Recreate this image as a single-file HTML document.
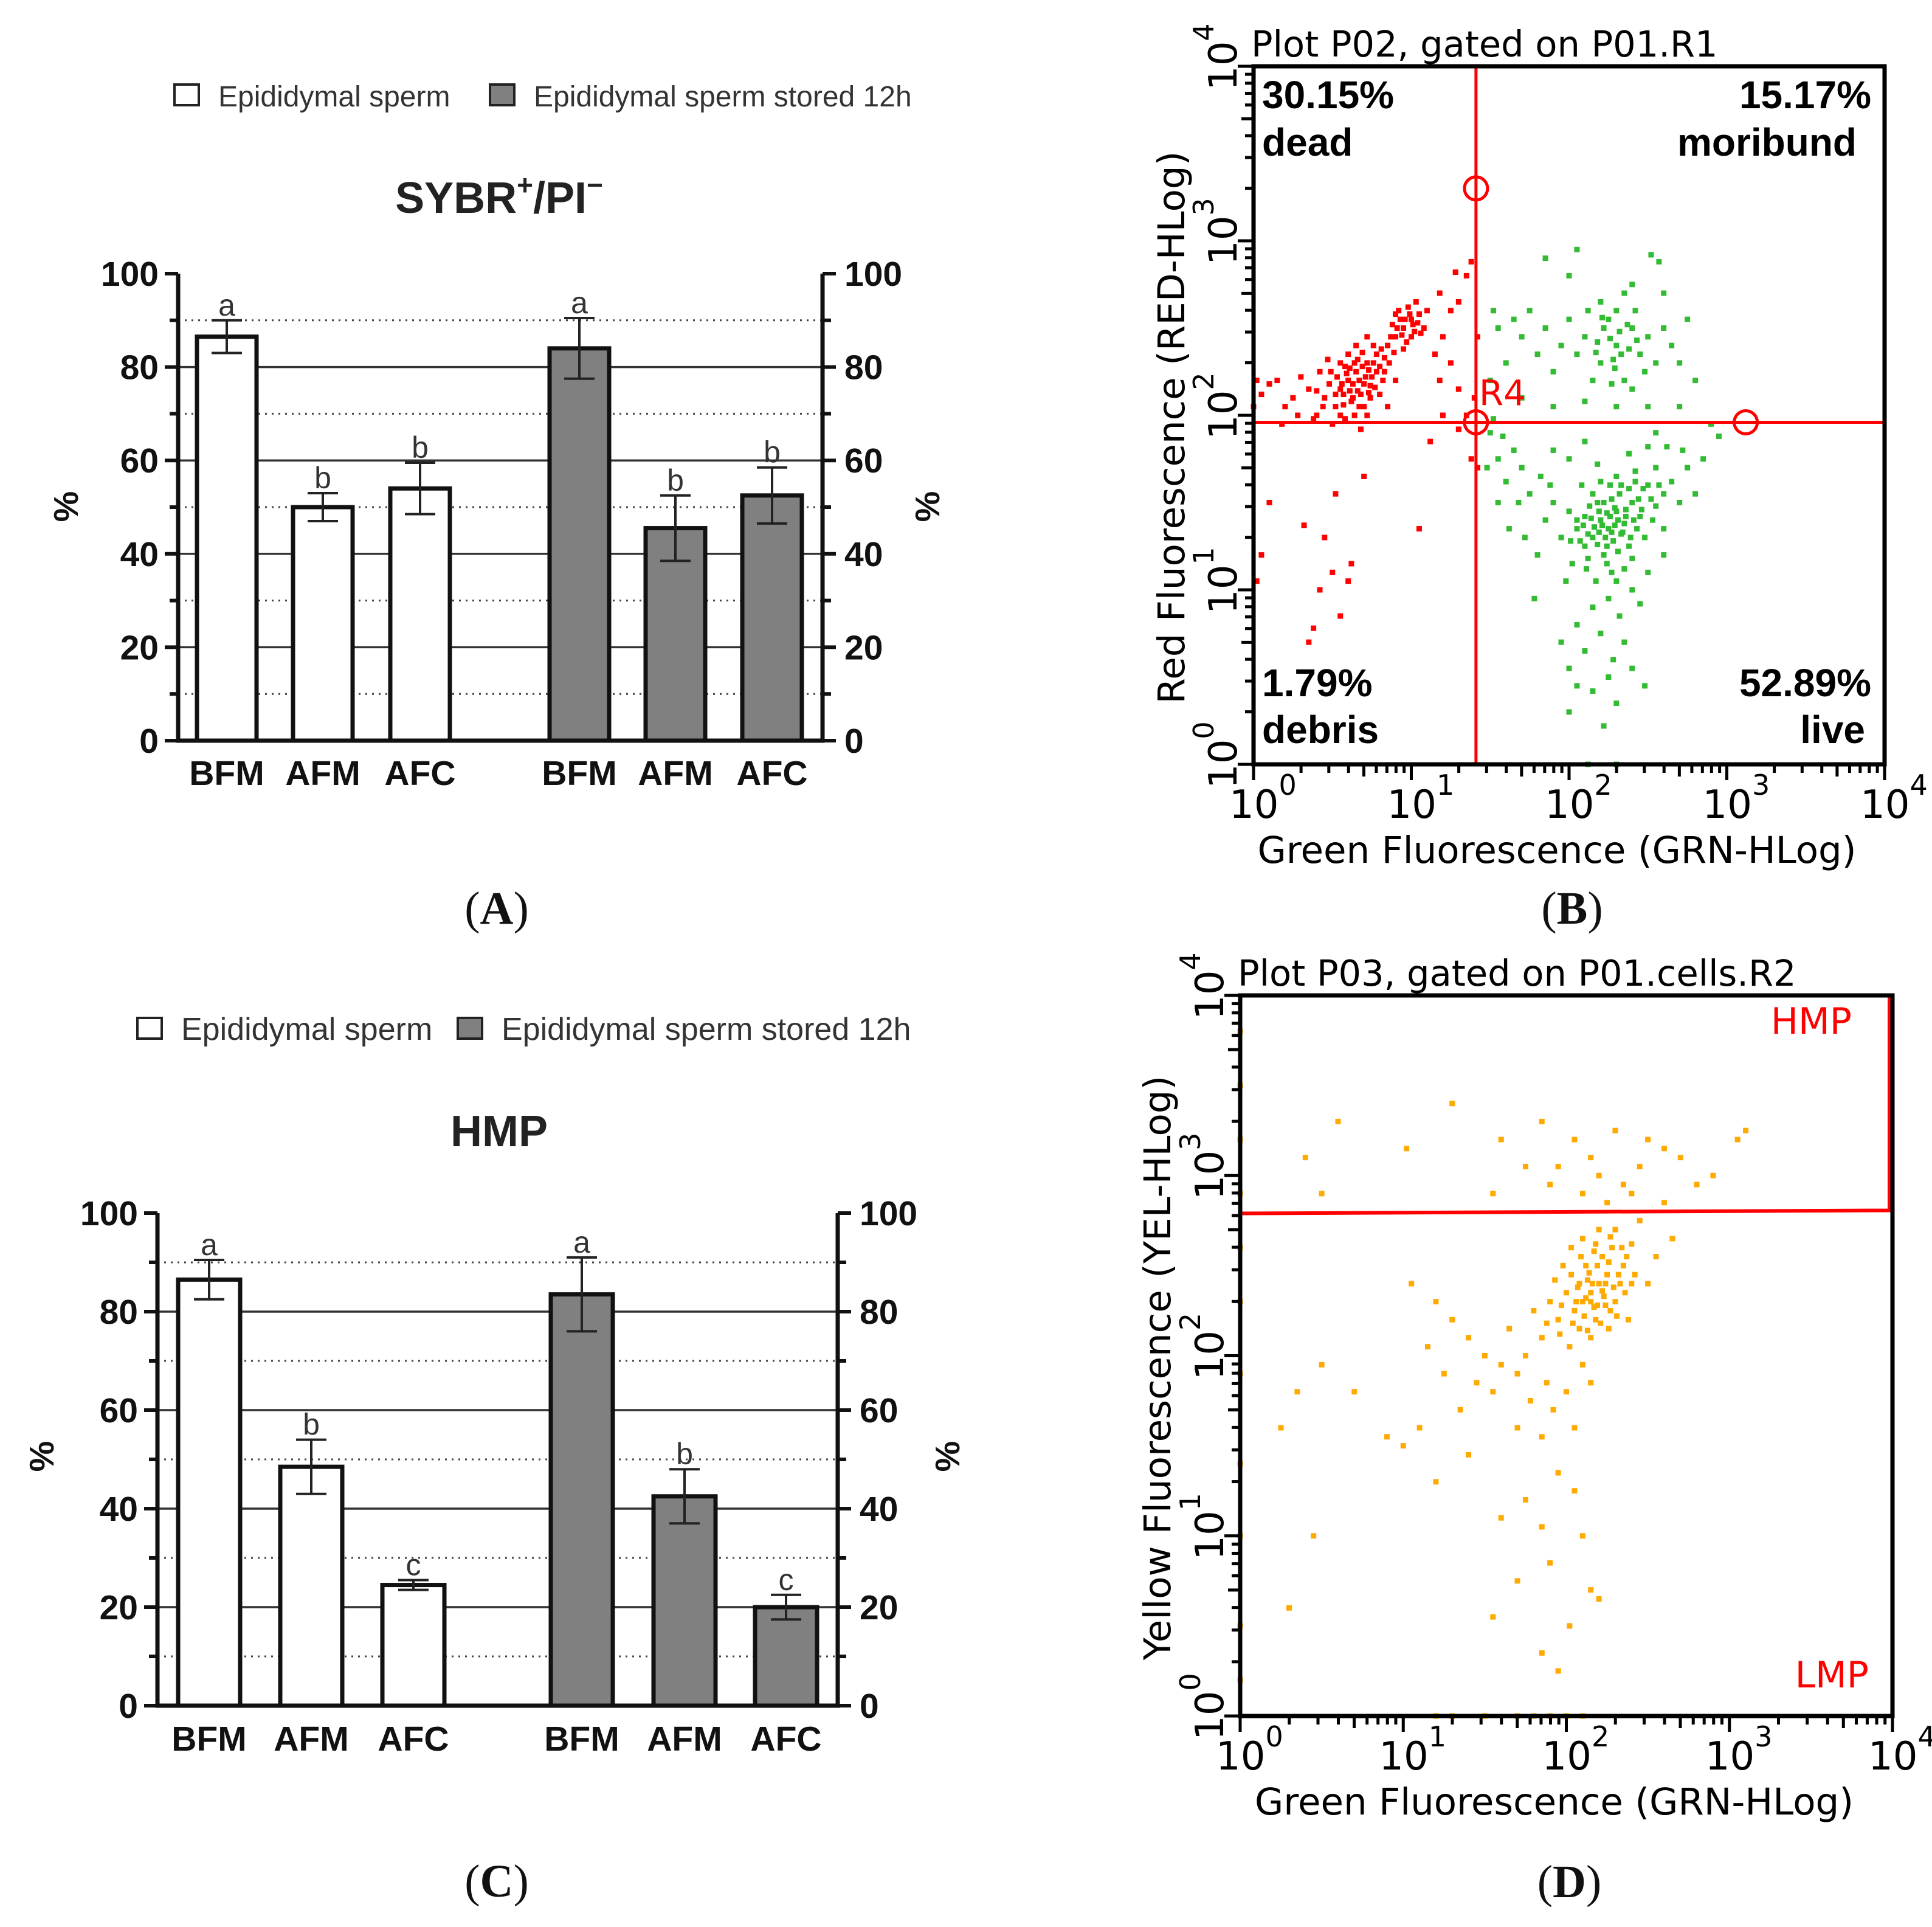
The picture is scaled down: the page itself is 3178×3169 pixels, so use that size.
<!DOCTYPE html>
<html><head><meta charset="utf-8">
<style>
html,body{margin:0;padding:0;background:#fff;}
svg{display:block;}
.bar{font-family:"Liberation Sans",Arial,sans-serif;}
.flow{font-family:"DejaVu Sans",Verdana,sans-serif;}
.lab{font-family:"Liberation Sans",Arial,sans-serif;}
.ser{font-family:"Liberation Serif","Times New Roman",serif;}
</style></head>
<body>
<svg id="fig" width="3178" height="3169" viewBox="0 0 3178 3169" xmlns="http://www.w3.org/2000/svg">
<rect width="3178" height="3169" fill="#fff"/>
<g id="panelA"></g>
<g id="panelC"></g>
<g id="panelB"></g>
<g id="panelD"></g>
</svg>
<script>
// ---------- data ----------
const barCategories = ["BFM","AFM","AFC","BFM","AFM","AFC"];
const sybrValues = [86.5, 50, 54, 84, 45.5, 52.5];
const sybrErrors = [3.5, 3, 5.5, 6.5, 7, 6];
const sybrLetters = ["a","b","b","a","b","b"];
const hmpValues = [86.5, 48.5, 24.5, 83.5, 42.5, 20];
const hmpErrors = [4, 5.5, 1, 7.5, 5.5, 2.5];
const hmpLetters = ["a","b","c","a","b","c"];
const barYTicks = [0,20,40,60,80,100];
const logTicks = [0,1,2,3,4];

const deadCells = [[0.55,2.15],[0.6,2.2],[0.65,2.25],[0.7,2.18],[0.72,2.3],[0.68,2.12],[0.75,2.22],[0.8,2.28],[0.62,2.08],[0.58,2.28],[0.66,2.32],[0.74,2.1],[0.78,2.35],[0.82,2.2],[0.7,2.05],[0.64,2.0],[0.52,2.05],[0.48,2.18],[0.45,2.1],[0.55,2.0],[0.6,2.35],[0.85,2.4],[0.9,2.45],[0.95,2.5],[1.0,2.55],[0.92,2.6],[1.02,2.48],[1.05,2.58],[0.97,2.42],[0.88,2.52],[1.08,2.5],[0.93,2.55],[0.98,2.62],[1.1,2.6],[0.86,2.3],[0.76,2.4],[0.72,2.45],[0.8,2.12],[0.58,1.98],[0.5,1.95],[0.4,2.0],[0.35,2.15],[0.3,2.22],[0.25,2.1],[0.2,2.05],[0.15,2.2],[0.1,2.18],[0.05,2.12],[0.02,2.2],[0.68,1.92],[0.72,2.0],[0.65,2.4],[0.55,2.3],[0.42,2.25],[0.38,1.98],[0.85,2.05],[0.9,2.2],[1.15,2.35],[1.2,2.45],[1.25,2.6],[1.18,2.7],[1.3,2.65],[1.35,2.8],[1.28,2.82],[1.38,2.88],[1.25,2.3],[1.3,2.15],[1.35,2.0],[1.2,2.0],[1.12,1.85],[1.3,1.92],[1.4,2.1],[1.42,2.45],[1.38,1.75],[1.42,1.7],[1.18,2.2],[0.7,1.65],[0.52,1.55],[0.1,1.5],[0.45,1.3],[0.62,1.15],[0.5,1.1],[0.42,1.0],[0.55,0.85],[0.05,1.2],[0.02,1.05],[0.32,1.37],[0.6,1.05],[0.38,0.78],[0.35,0.7],[0.0,2.05],[1.05,1.35],[0.63,2.18],[0.67,2.05],[0.57,2.12],[0.73,2.26],[0.77,2.16],[0.61,2.27],[0.69,2.36],[0.53,2.22],[0.95,2.38],[1.0,2.45],[0.9,2.58],[1.03,2.65],[0.28,2.0],[0.18,1.95],[0.47,2.32],[0.83,2.33],[0.66,2.14],[0.71,2.22],[0.59,2.24],[0.63,2.1],[0.69,2.28],[0.56,2.18],[0.74,2.17],[0.78,2.25],[0.64,2.3],[0.61,2.14],[0.67,2.2],[0.73,2.13],[0.52,2.12],[0.49,2.25],[0.57,2.06],[0.96,2.55],[1.01,2.52],[0.94,2.46],[0.99,2.58],[1.04,2.53],[0.91,2.5],[0.87,2.45],[1.06,2.47],[0.89,2.36],[0.81,2.38],[0.76,2.3],[0.83,2.25],[0.44,2.05],[0.4,2.14]];
const liveCells = [[2.2,1.4],[2.25,1.35],[2.3,1.45],[2.15,1.3],[2.35,1.38],[2.1,1.42],[2.28,1.28],[2.4,1.5],[2.05,1.35],[2.18,1.5],[2.32,1.55],[2.45,1.42],[2.5,1.6],[2.22,1.2],[2.12,1.18],[2.38,1.25],[2.0,1.45],[1.95,1.3],[2.55,1.48],[2.6,1.55],[2.48,1.3],[2.27,1.1],[2.17,1.05],[2.35,1.12],[1.9,1.5],[1.85,1.4],[2.08,1.6],[2.42,1.68],[2.55,1.7],[2.65,1.62],[2.7,1.5],[2.3,1.65],[2.2,1.62],[2.1,1.25],[2.02,1.15],[1.98,1.05],[2.25,0.95],[2.4,1.0],[2.15,0.9],[2.32,0.85],[2.5,1.1],[2.45,0.92],[2.05,0.8],[2.2,0.75],[2.35,0.7],[2.1,0.65],[2.28,0.6],[1.95,0.7],[2.4,0.55],[2.25,0.5],[2.15,0.42],[2.3,0.35],[2.05,0.45],[2.48,0.45],[2.22,0.22],[2.0,0.3],[1.8,1.2],[1.75,1.55],[1.7,1.7],[1.65,1.8],[1.6,1.62],[1.55,1.75],[1.5,1.9],[1.48,1.7],[1.58,1.88],[1.68,1.5],[1.72,1.3],[1.82,1.65],[1.9,1.8],[2.0,1.75],[2.1,1.85],[1.55,1.5],[1.62,1.35],[2.6,1.35],[2.75,1.7],[2.8,1.55],[2.72,1.8],[2.85,1.75],[2.62,1.82],[2.5,1.82],[2.38,1.78],[2.9,1.95],[2.95,1.88],[2.55,1.9],[2.18,1.72],[2.27,1.52],[2.33,1.32],[2.13,1.48],[2.24,1.44],[2.19,1.33],[2.29,1.37],[2.36,1.46],[2.09,1.37],[2.43,1.35],[2.52,1.52],[2.15,1.55],[1.88,1.6],[1.78,0.95],[2.6,1.2],[2.0,0.55],[1.52,1.98],[2.12,0.0],[2.3,0.0],[2.38,1.58],[2.26,1.6],[2.07,1.28],[2.4,1.18],[2.21,1.37],[2.26,1.42],[2.31,1.4],[2.16,1.36],[2.23,1.3],[2.34,1.33],[2.29,1.47],[2.19,1.45],[2.24,1.25],[2.14,1.41],[2.36,1.42],[2.41,1.4],[2.44,1.52],[2.47,1.58],[2.33,1.6],[2.12,1.32],[2.18,1.26],[2.39,1.3],[2.27,1.33],[2.22,1.5],[2.05,1.4],[2.01,1.28],[2.31,1.22],[2.46,1.46],[2.53,1.4],[2.57,1.6],[2.42,1.62],[2.11,1.12],[2.24,1.15],[2.3,1.05]];
const moribundCells = [[2.3,2.4],[2.2,2.3],[2.4,2.5],[2.1,2.45],[2.35,2.2],[2.25,2.55],[2.45,2.35],[2.15,2.2],[2.5,2.45],[2.05,2.35],[2.55,2.3],[2.3,2.6],[2.4,2.15],[2.2,2.65],[2.6,2.5],[2.0,2.55],[1.95,2.4],[2.65,2.4],[2.35,2.7],[2.28,2.32],[2.18,2.42],[2.38,2.38],[2.48,2.25],[2.12,2.6],[1.9,2.25],[1.85,2.5],[1.8,2.35],[1.75,2.6],[1.7,2.45],[1.65,2.55],[1.6,2.3],[1.55,2.5],[1.5,2.2],[1.52,2.6],[2.7,2.3],[2.75,2.55],[2.8,2.2],[2.7,2.05],[2.5,2.05],[2.3,2.05],[2.1,2.08],[1.9,2.05],[1.7,2.1],[2.6,2.7],[2.4,2.75],[2.0,2.8],[1.85,2.9],[2.05,2.95],[2.52,2.92],[2.57,2.88],[2.22,2.5],[2.32,2.48],[2.42,2.6],[2.27,2.18],[2.33,2.35],[2.26,2.44],[2.37,2.52],[2.17,2.36],[2.43,2.43],[2.29,2.27],[2.21,2.56]];
const hmpCells = [[2.1,2.3],[2.15,2.35],[2.2,2.4],[2.05,2.25],[2.25,2.45],[2.18,2.2],[2.12,2.5],[2.3,2.3],[2.0,2.35],[2.22,2.55],[2.28,2.6],[2.08,2.15],[2.15,2.1],[2.35,2.5],[2.4,2.62],[1.95,2.2],[1.9,2.3],[2.02,2.05],[2.1,1.95],[1.85,2.1],[1.8,2.25],[2.3,2.7],[2.2,2.7],[2.45,2.75],[2.1,2.65],[1.98,2.5],[1.75,2.0],[1.7,1.9],[1.65,2.15],[1.6,1.95],[1.88,1.85],[2.0,1.8],[2.15,1.85],[1.92,1.7],[1.78,1.75],[2.05,1.6],[1.85,1.55],[1.7,1.6],[1.55,1.8],[1.5,2.0],[1.45,1.85],[1.4,2.1],[1.35,1.7],[1.3,2.2],[1.25,1.9],[1.2,2.3],[1.15,2.05],[1.1,1.6],[1.05,2.4],[1.0,1.5],[1.95,1.35],[2.05,1.25],[1.75,1.2],[1.85,1.05],[2.1,1.0],[1.6,1.1],[1.9,0.85],[2.15,0.7],[1.7,0.75],[2.02,0.5],[1.55,0.55],[1.85,0.35],[2.2,0.65],[1.95,0.25],[2.25,2.85],[2.35,2.95],[2.45,3.05],[2.15,3.1],[2.05,3.2],[1.95,3.05],[2.3,3.25],[2.5,3.2],[2.6,3.15],[2.7,3.1],[2.4,2.9],[2.2,3.0],[2.1,2.9],[1.9,2.95],[1.75,3.05],[1.6,3.2],[1.55,2.9],[1.85,3.3],[2.6,2.85],[2.8,2.95],[2.9,3.0],[3.05,3.2],[3.1,3.25],[2.55,2.55],[2.65,2.65],[2.5,2.4],[2.38,2.2],[2.27,2.25],[2.13,2.42],[2.23,2.33],[2.17,2.58],[2.33,2.4],[2.07,2.38],[2.03,2.45],[2.26,2.15],[2.19,2.28],[2.37,2.55],[2.42,2.45],[1.3,3.4],[0.6,3.3],[0.5,2.9],[0.4,3.1],[1.02,3.15],[0.5,1.95],[0.7,1.8],[0.35,1.8],[0.25,1.6],[0.9,1.55],[0.45,1.0],[0.3,0.6],[1.2,1.3],[1.4,1.45],[0,3.8],[0,3.5],[0,3.2],[0,2.9],[0,2.6],[0,2.3],[0,1.9],[0,1.4],[0,1.0],[0,0.5],[0,0.2],[1.5,0],[1.7,0],[1.8,0],[1.9,0],[2.0,0],[2.1,0],[1.2,0],[1.3,0],[2.12,2.32],[2.17,2.27],[2.22,2.36],[2.08,2.4],[2.14,2.46],[2.24,2.28],[2.29,2.38],[2.06,2.3],[2.19,2.5],[2.26,2.52],[2.32,2.45],[2.11,2.22],[2.04,2.18],[1.97,2.28],[2.16,2.4],[2.21,2.18],[2.09,2.55],[2.34,2.6],[2.27,2.66],[2.18,2.62],[2.03,2.6],[1.93,2.42],[1.88,2.18],[1.96,2.12],[2.13,2.14],[2.31,2.22],[2.36,2.35],[2.4,2.4],[2.24,2.4],[2.15,2.3]];

// ---------- helpers ----------
const NS="http://www.w3.org/2000/svg";
function mk(parent,tag,attrs,text){const e=document.createElementNS(NS,tag);for(const k in attrs)e.setAttribute(k,attrs[k]);if(text!==undefined)e.textContent=text;parent.appendChild(e);return e;}

// ---------- bar chart ----------
function barChart(gid,cfg,values,errors,letters,title){
  const g=document.getElementById(gid);
  const y=v=>cfg.y0-v*(cfg.y0-cfg.y100)/100;
  let r=mk(g,'rect',{x:cfg.lx1,y:cfg.ly-36,width:40,height:34,fill:'#fff',stroke:'#222','stroke-width':4});
  
  
  let t=mk(g,'text',{x:cfg.lx1+72,y:cfg.ly,'font-size':cfg.lfs,fill:'#333',class:'bar'},'Epididymal sperm');
  
  
  r=mk(g,'rect',{x:cfg.lx2,y:cfg.ly-36,width:40,height:34,fill:'#808080',stroke:'#222','stroke-width':4});
  
  
  t=mk(g,'text',{x:cfg.lx2+72,y:cfg.ly,'font-size':cfg.lfs,fill:'#333',class:'bar'},'Epididymal sperm stored 12h');
  
  
  t=mk(g,'text',{x:cfg.cx,y:cfg.ty,'font-size':72,'font-weight':'bold','text-anchor':'middle',fill:'#222',class:'bar'});
  
  
  if(title==='SYBR'){t.appendChild(document.createTextNode('SYBR'));mk(t,'tspan',{'font-size':46,dy:-30},'+');mk(t,'tspan',{'font-size':72,dy:30},'/PI');mk(t,'tspan',{'font-size':46,dy:-30},'\u2212');}
  else t.textContent=title;
  for(let v=10;v<100;v+=10){
    const solid=v%20===0;
    const l=mk(g,'line',{x1:cfg.ax,x2:cfg.bx,y1:y(v),y2:y(v),stroke:solid?'#333':'#444','stroke-width':solid?3.5:3,'stroke-dasharray':solid?'none':'3 8'});
    
    
  }
  values.forEach((v,i)=>{
    const cx=cfg.centers[i],w=cfg.bw;
    const b=mk(g,'rect',{x:cx-w/2,y:y(v),width:w,height:y(0)-y(v),fill:i<3?'#fff':'#808080',stroke:'#111','stroke-width':7});
    
    
    const e=errors[i],top=y(v+e),bot=y(v-e);
    const eb=mk(g,'path',{d:`M${cx},${top}V${bot}M${cx-25},${top}H${cx+25}M${cx-25},${bot}H${cx+25}`,stroke:'#222','stroke-width':4,fill:'none'});
    
    
    const lt=mk(g,'text',{x:cx,y:top-8,'font-size':50,'text-anchor':'middle',fill:'#333',class:'bar'},letters[i]);
    
    
    const xl=mk(g,'text',{x:cx,y:cfg.xly,'font-size':57,'font-weight':'bold','text-anchor':'middle',fill:'#111',class:'bar'},barCategories[i]);
    
    
  });
  let a=mk(g,'path',{d:`M${cfg.ax},${y(100)}V${y(0)}H${cfg.bx}V${y(100)}`,stroke:'#111','stroke-width':7,fill:'none'});
  
  
  for(let v=0;v<=100;v+=10){
    const L=v%20===0?22:14;
    mk(g,'line',{x1:cfg.ax-L,x2:cfg.ax,y1:y(v),y2:y(v),stroke:'#111','stroke-width':6});
    mk(g,'line',{x1:cfg.bx,x2:cfg.bx+L,y1:y(v),y2:y(v),stroke:'#111','stroke-width':6});
  }
  barYTicks.forEach(v=>{
    let tl=mk(g,'text',{x:cfg.ax-32,y:y(v)+20,'font-size':57,'font-weight':'bold','text-anchor':'end',fill:'#111',class:'bar'},String(v));
    
    
    tl=mk(g,'text',{x:cfg.bx+36,y:y(v)+20,'font-size':57,'font-weight':'bold','text-anchor':'start',fill:'#111',class:'bar'},String(v));
    
    
  });
  let yt=mk(g,'text',{x:0,y:0,'font-size':57,'font-weight':'bold','text-anchor':'middle',fill:'#111',class:'bar',transform:`translate(${cfg.pl},${cfg.py}) rotate(-90)`},'%');
  
  
  yt=mk(g,'text',{x:0,y:0,'font-size':57,'font-weight':'bold','text-anchor':'middle',fill:'#111',class:'bar',transform:`translate(${cfg.pr},${cfg.py}) rotate(-90)`},'%');
  
  
  const pl=mk(g,'text',{x:cfg.cx-4,y:cfg.capy,'font-size':76,'text-anchor':'middle',fill:'#111',class:'ser'});
  
  
  pl.appendChild(document.createTextNode('('));mk(pl,'tspan',{'font-weight':'bold'},cfg.label);pl.appendChild(document.createTextNode(')'));
}
barChart('panelA',{y0:1218,y100:450,ax:293,bx:1353,centers:[373,531,691,953,1111,1270],bw:98,lx1:287,lx2:806,ly:175,lfs:48,cx:821,ty:350,xly:1291,pl:128,pr:1545,py:833,capy:1519,label:'A'},sybrValues,sybrErrors,sybrLetters,'SYBR');
barChart('panelC',{y0:2805,y100:1995,ax:259,bx:1378,centers:[344,512,680,957,1126,1293],bw:102,lx1:226,lx2:753,ly:1710,lfs:52,cx:821,ty:1885,xly:2879,pl:88,pr:1578,py:2395,capy:3119,label:'C'},hmpValues,hmpErrors,hmpLetters,'HMP');

// ---------- flow plots ----------
function flowPlot(gid,cfg){
  const g=document.getElementById(gid);
  const X=l=>cfg.L+l*(cfg.R-cfg.L)/4;
  const Y=l=>cfg.B-l*(cfg.B-cfg.T)/4;
  cfg.series.forEach(s=>{
    s.data.forEach(p=>{
      const d=mk(g,'rect',{x:X(p[0])-4.5,y:Y(p[1])-4.5,width:9,height:9,fill:s.color});
      
      
    });
  });
  cfg.gates(g,X,Y);
  const fr=mk(g,'rect',{x:cfg.L,y:cfg.T,width:cfg.R-cfg.L,height:cfg.B-cfg.T,fill:'none',stroke:'#000','stroke-width':7});
  
  
  for(let d=0;d<4;d++){for(let k=1;k<=9;k++){
    const l=d+Math.log10(k),len=k===1?26:(k===5?20:14);
    mk(g,'line',{x1:X(l),x2:X(l),y1:cfg.B,y2:cfg.B+len,stroke:'#000','stroke-width':5});
    mk(g,'line',{x1:cfg.L-len,x2:cfg.L,y1:Y(l),y2:Y(l),stroke:'#000','stroke-width':5});
  }}
  mk(g,'line',{x1:X(4),x2:X(4),y1:cfg.B,y2:cfg.B+26,stroke:'#000','stroke-width':5});
  mk(g,'line',{x1:cfg.L-26,x2:cfg.L,y1:Y(4),y2:Y(4),stroke:'#000','stroke-width':5});
  logTicks.forEach(k=>{
    let t=mk(g,'text',{x:X(k)-40,y:cfg.B+88,'font-size':64,fill:'#000',class:'flow'},'10');
    mk(t,'tspan',{'font-size':46,dy:-38},String(k));
    
    
    t=mk(g,'text',{x:0,y:0,'font-size':64,fill:'#000',class:'flow',transform:`translate(${cfg.L-28},${Y(k)+40}) rotate(-90)`},'10');
    mk(t,'tspan',{'font-size':46,dy:-38},String(k));
    
    
  });
  let t=mk(g,'text',{x:cfg.L-4,y:cfg.T-16,'font-size':59,fill:'#000',class:'flow'},cfg.title);
  
  
  t=mk(g,'text',{x:(cfg.L+cfg.R)/2-20,y:cfg.B+162,'font-size':61,fill:'#000','text-anchor':'middle',class:'flow'},'Green Fluorescence (GRN-HLog)');
  
  
  t=mk(g,'text',{x:0,y:0,'font-size':61,fill:'#000','text-anchor':'middle',class:'flow',transform:`translate(${cfg.yx},${(cfg.T+cfg.B)/2+20}) rotate(-90)`},cfg.ytitle);
  
  
  const pl=mk(g,'text',{x:(cfg.L+cfg.R)/2+5,y:cfg.capy,'font-size':76,'text-anchor':'middle',fill:'#111',class:'ser'});
  
  
  pl.appendChild(document.createTextNode('('));mk(pl,'tspan',{'font-weight':'bold'},cfg.label);pl.appendChild(document.createTextNode(')'));
  cfg.labels(g);
}
function txt(g,x,y,s,opts,name,cls){const t=mk(g,'text',Object.assign({x:x,y:y,class:cls||'flow'},opts),s);return t;}

flowPlot('panelB',{L:2062,R:3100,T:109,B:1257,title:'Plot P02, gated on P01.R1',ytitle:'Red Fluorescence (RED-HLog)',yx:1948,label:'B',capy:1519,
  series:[{name:'dead-cell-dot',color:'#ff0000',data:deadCells},{name:'live-cell-dot',color:'#33bb33',data:liveCells},{name:'moribund-cell-dot',color:'#33bb33',data:moribundCells}],
  gates:(g,X,Y)=>{
    const gx=X(1.41),gy=Y(1.96);
    let l=mk(g,'line',{x1:gx,x2:gx,y1:109,y2:1257,stroke:'#ff0000','stroke-width':5});
    
    
    l=mk(g,'line',{x1:2062,x2:3100,y1:gy,y2:gy,stroke:'#ff0000','stroke-width':5});
    
    
    [[gx,Y(3.3)],[gx,gy],[X(3.12),gy]].forEach(p=>{
      const c=mk(g,'circle',{cx:p[0],cy:p[1],r:19,fill:'none',stroke:'#ff0000','stroke-width':5});
      
      
    });
    txt(g,gx+5,gy-28,'R4',{'font-size':58,fill:'#ff0000'},'gate-label-r4');
  },
  labels:(g)=>{
    const o={'font-size':64,'font-weight':'bold',fill:'#000'};
    txt(g,2076,178,'30.15%',o,'quadrant-percent-dead','lab');
    txt(g,2076,256,'dead',o,'quadrant-label-dead','lab');
    txt(g,3078,178,'15.17%',Object.assign({'text-anchor':'end'},o),'quadrant-percent-moribund','lab');
    txt(g,3054,256,'moribund',Object.assign({'text-anchor':'end'},o),'quadrant-label-moribund','lab');
    txt(g,2076,1145,'1.79%',o,'quadrant-percent-debris','lab');
    txt(g,2076,1222,'debris',o,'quadrant-label-debris','lab');
    txt(g,3078,1145,'52.89%',Object.assign({'text-anchor':'end'},o),'quadrant-percent-live','lab');
    txt(g,3068,1222,'live',Object.assign({'text-anchor':'end'},o),'quadrant-label-live','lab');
  }});

flowPlot('panelD',{L:2040,R:3113,T:1637,B:2822,title:'Plot P03, gated on P01.cells.R2',ytitle:'Yellow Fluorescence (YEL-HLog)',yx:1925,label:'D',capy:3120,
  series:[{name:'cell-dot',color:'#ffaa00',data:hmpCells}],
  gates:(g,X,Y)=>{
    const gy=Y(2.8);
    const p=mk(g,'path',{d:`M2040,${gy+3}L3108,${gy-2}V1637`,fill:'none',stroke:'#ff0000','stroke-width':6});
    
    
  },
  labels:(g)=>{
    txt(g,3046,1700,'HMP',{'font-size':60,fill:'#ff0000','text-anchor':'end'},'gate-label-hmp');
    txt(g,3074,2775,'LMP',{'font-size':60,fill:'#ff0000','text-anchor':'end'},'gate-label-lmp');
  }});
</script>
</body></html>
